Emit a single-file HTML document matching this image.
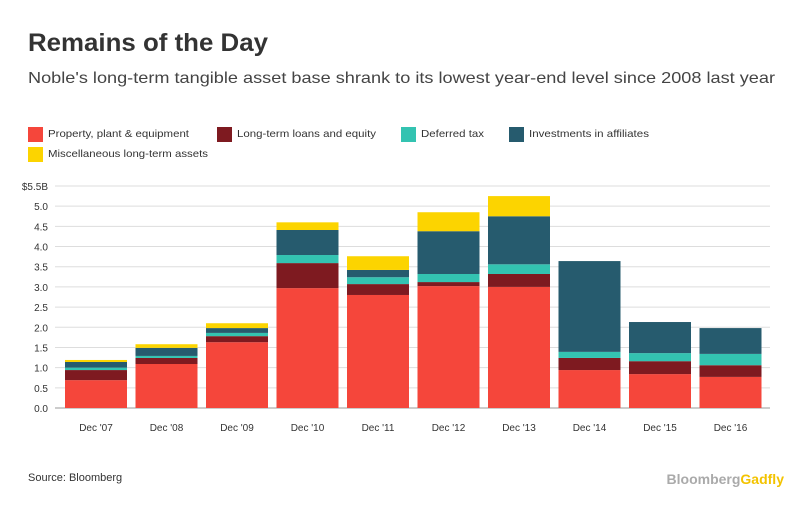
<!DOCTYPE html>
<html><head><meta charset="utf-8"><style>
body{margin:0;width:812px;height:517px;background:#fff;font-family:"Liberation Sans",sans-serif;overflow:hidden}
svg{position:absolute;left:0;top:0}
</style></head><body>
<svg width="812" height="517">
<text x="28" y="51" font-size="25" font-weight="bold" fill="#333" textLength="240" lengthAdjust="spacingAndGlyphs">Remains of the Day</text>
<text x="28" y="83" font-size="16" fill="#444" textLength="747" lengthAdjust="spacingAndGlyphs">Noble's long-term tangible asset base shrank to its lowest year-end level since 2008 last year</text>
<g id="legend"></g>
<g id="grid"></g>
<g id="bars"></g>
<g id="xlab"></g>
<text x="28" y="481" font-size="11" fill="#333">Source: Bloomberg</text>
<text x="784" y="484" font-size="14" font-weight="bold" text-anchor="end"><tspan fill="#aaa">Bloomberg</tspan><tspan fill="#f3c300">Gadfly</tspan></text>
</svg>
<script>
const categories=["Dec '07","Dec '08","Dec '09","Dec '10","Dec '11","Dec '12","Dec '13","Dec '14","Dec '15","Dec '16"];
const seriesNames=["Property, plant & equipment","Long-term loans and equity","Deferred tax","Investments in affiliates","Miscellaneous long-term assets"];
const ppe=[0.69,1.09,1.63,2.97,2.80,3.02,3.00,0.94,0.84,0.77];
const loans=[0.25,0.15,0.15,0.62,0.27,0.10,0.32,0.30,0.32,0.29];
const deferred=[0.06,0.05,0.08,0.20,0.17,0.20,0.24,0.15,0.20,0.28];
const invest=[0.14,0.20,0.12,0.62,0.18,1.06,1.19,2.25,0.77,0.64];
const misc=[0.05,0.09,0.12,0.19,0.34,0.47,0.50,0,0,0];
const yTicks=[0,0.5,1,1.5,2,2.5,3,3.5,4,4.5,5,5.5];
const yTickLabels=["0.0","0.5","1.0","1.5","2.0","2.5","3.0","3.5","4.0","4.5","5.0","$5.5B"];
const colors=["#f5463b","#7e1a20","#33c3b1","#265b6e","#fcd400"];
const series=[ppe,loans,deferred,invest,misc];
const NS="http://www.w3.org/2000/svg";
const y0=408,yTop=186,yMax=5.5;
const y=v=>y0-(v/yMax)*(y0-yTop);
const x0=65,step=70.5,bw=62;
const x=i=>x0+i*step;
function mk(t,a,p){const e=document.createElementNS(NS,t);for(const k in a)e.setAttribute(k,a[k]);p.appendChild(e);return e;}
const grid=document.getElementById('grid');
yTicks.forEach((t,i)=>{
 const l=mk('line',{x1:55,x2:770,y1:y(t),y2:y(t),stroke:i==0?'#999':'#ddd','stroke-width':1},grid);
 
 
 const tx=mk('text',{x:48,y:y(t)+4,'font-size':10,'text-anchor':'end',fill:'#333'},grid);
 tx.textContent=yTickLabels[i];
 
 
});
const bars=document.getElementById('bars');
categories.forEach((c,i)=>{
 let cum=0;
 series.forEach((s,k)=>{
  const v=s[i]; if(v<=0)return;
  const r=mk('rect',{x:x(i),y:y(cum+v),width:bw,height:y(cum)-y(cum+v),fill:colors[k]},bars);
  
  
  cum+=v;
 });
 const t=mk('text',{x:x(i)+bw/2,y:431,'font-size':10,'text-anchor':'middle',fill:'#333'},document.getElementById('xlab'));
 t.textContent=c;
 
 
});
const lg=document.getElementById('legend');
const lpos=[[28,127],[217,127],[401,127],[509,127],[28,147]];
const lw=[141,139,63,120,160];
seriesNames.forEach((n,k)=>{
 const r=mk('rect',{x:lpos[k][0],y:lpos[k][1],width:15,height:15,fill:colors[k]},lg);
 
 
 const t=mk('text',{x:lpos[k][0]+20,y:lpos[k][1]+10,'font-size':10.5,fill:'#333',textLength:lw[k],lengthAdjust:'spacingAndGlyphs'},lg);
 t.textContent=n;
 
 
});
</script>
</body></html>
